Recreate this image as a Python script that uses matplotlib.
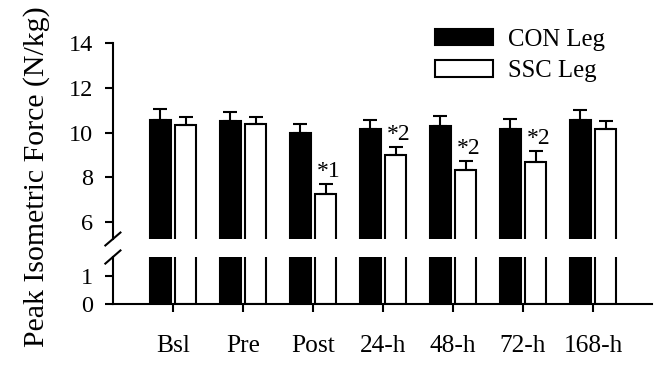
import numpy as np
import matplotlib
matplotlib.use("Agg")
import matplotlib.pyplot as plt

# --- données ---
moments = ["Bsl", "Pre", "Post", "24-h", "48-h", "72-h", "168-h"]
con_moy = [10.55, 10.50, 9.98, 10.14, 10.31, 10.14, 10.55]
con_err = [0.49, 0.42, 0.42, 0.44, 0.42, 0.48, 0.45]
ssc_moy = [10.35, 10.40, 7.26, 9.00, 8.34, 8.70, 10.14]
ssc_err = [0.35, 0.30, 0.45, 0.35, 0.41, 0.47, 0.38]
signif = ["", "", "*1", "*2", "*2", "*2", ""]

plt.rcParams["font.family"] = ["Liberation Serif", "DejaVu Serif"]
plt.rcParams["axes.linewidth"] = 1.5

x = np.arange(len(moments))
larg = 0.3
dec = 0.18

fig = plt.figure(figsize=(6.72, 3.67), dpi=100)
ax_h = fig.add_axes([0.168, 0.3488, 0.802, 0.534])
ax_b = fig.add_axes([0.168, 0.1717, 0.802, 0.128])

for ax in (ax_h, ax_b):
    ax.bar(x - dec, con_moy, larg, color="black", edgecolor="black", linewidth=1.5,
           label="CON Leg")
    ax.bar(x + dec, ssc_moy, larg, color="white", edgecolor="black", linewidth=1.5,
           label="SSC Leg")
    ax.set_xlim(-0.86, 6.84)
    ax.spines["top"].set_visible(False)
    ax.spines["right"].set_visible(False)
    ax.tick_params(axis="y", direction="out", length=6, width=1.5, pad=8,
                   labelsize=17.5)

# barres d'erreur (vers le haut seulement)
zeros = np.zeros(len(x))
ax_h.errorbar(x - dec, con_moy, yerr=[zeros, con_err], fmt="none", ecolor="black",
              elinewidth=1.5, capsize=5, capthick=1.5)
ax_h.errorbar(x + dec, ssc_moy, yerr=[zeros, ssc_err], fmt="none", ecolor="black",
              elinewidth=1.5, capsize=5, capthick=1.5)

for i, s in enumerate(signif):
    if s:
        ax_h.annotate(s, (x[i] + dec, ssc_moy[i] + ssc_err[i]), xytext=(2.5, 5),
                      textcoords="offset points", ha="center", va="baseline",
                      fontsize=17)

# partie haute
ax_h.set_ylim(5.25, 14)
ax_h.set_yticks([6, 8, 10, 12, 14])
ax_h.spines["bottom"].set_visible(False)
ax_h.set_xticks([])

# partie basse
ax_b.set_ylim(0, 1.68)
ax_b.set_yticks([0, 1])
ax_b.set_xticks(x)
ax_b.set_xticklabels(moments)
ax_b.tick_params(axis="x", direction="out", length=6, width=1.5, pad=16,
                 labelsize=18.3)

# marques de coupure
kw = dict(color="black", linewidth=1.5, clip_on=False)
ax_h.plot([-0.014, 0.014], [-0.033, 0.033], transform=ax_h.transAxes, **kw)
ax_b.plot([-0.014, 0.014], [1 - 0.14, 1 + 0.14], transform=ax_b.transAxes, **kw)

# légende
ax_h.legend(loc="upper left", bbox_to_anchor=(0.598, 1.072), frameon=False,
            fontsize=17.8, handlelength=2.35, handleheight=0.65,
            handletextpad=0.6, labelspacing=0.38, borderpad=0, borderaxespad=0)

fig.text(0.055, 1 - 177 / 367, "Peak Isometric Force (N/kg)", rotation=90,
         ha="center", va="center", fontsize=21.5)

plt.savefig("out.png", dpi=100)
